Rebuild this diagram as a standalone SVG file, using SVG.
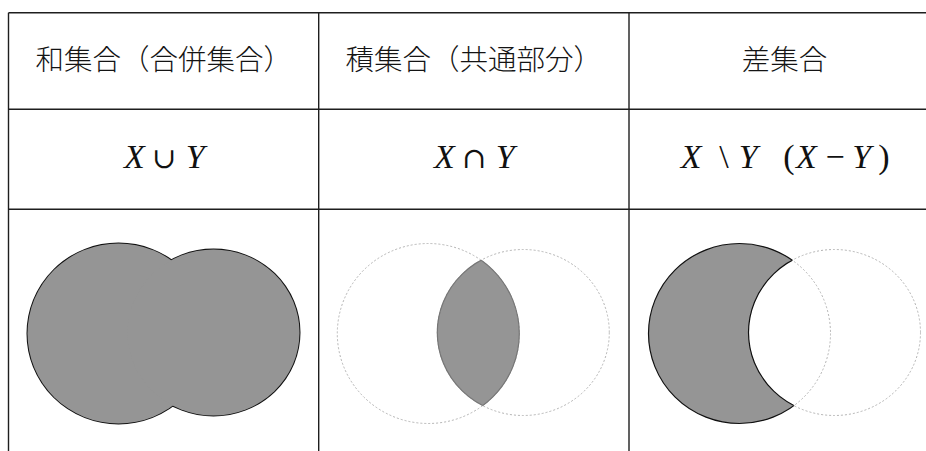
<svg xmlns="http://www.w3.org/2000/svg" xmlns:xlink="http://www.w3.org/1999/xlink" width="926" height="451" viewBox="0 0 926 451">
  <style>
    .grid { stroke: #1e1e1e; stroke-width: 1.4; fill: none; }
    .head { font-family: "Noto Sans CJK JP", "Noto Sans CJK SC", sans-serif; font-size: 28.5px; font-weight: 300; fill: #141414; text-anchor: middle; }
    .mi { font-family: "Liberation Serif", "DejaVu Serif", serif; font-style: italic; font-size: 34px; fill: #111; text-anchor: middle; }
    .mo { font-family: "Liberation Serif", "DejaVu Serif", serif; font-size: 34px; fill: #111; text-anchor: middle; }
    .op { font-family: "DejaVu Serif", "Liberation Serif", serif; font-size: 29px; fill: #111; text-anchor: middle; }
    .solid { fill: #959595; stroke: #111; stroke-width: 2; }
    .solidthin { fill: #959595; stroke: #111; stroke-width: 1.2; }
    .arc { fill: none; stroke: #111; stroke-width: 1.2; }
    .fillonly { fill: #959595; stroke: none; }
    .blank { fill: #ffffff; stroke: none; }
    .dash { fill: none; stroke: #b4b4b4; stroke-width: 1; stroke-dasharray: 2 2; }
    .lensedge { fill: none; stroke: #767676; stroke-width: 1.2; }
  </style>
  <defs>
    <ellipse id="L" cx="0" cy="333.5" rx="91" ry="90"/>
    <ellipse id="R" cx="95" cy="332.5" rx="86" ry="83"/>
    <clipPath id="clipL"><ellipse cx="0" cy="333.5" rx="91" ry="90"/></clipPath>
    <clipPath id="clipR"><ellipse cx="95" cy="332.5" rx="86" ry="83"/></clipPath>
    <clipPath id="clipLbig"><ellipse cx="0" cy="333.5" rx="92.6" ry="91.6"/></clipPath>
  </defs>

  <g id="table-lines">
    <line class="grid" x1="8.5" y1="12.8" x2="926" y2="12.8"/>
    <line class="grid" x1="8.5" y1="109.3" x2="926" y2="109.3"/>
    <line class="grid" x1="8.5" y1="209.3" x2="926" y2="209.3"/>
    <line class="grid" x1="8.5" y1="12.8" x2="8.5" y2="451"/>
    <line class="grid" x1="318.7" y1="12.8" x2="318.7" y2="451"/>
    <line class="grid" x1="629" y1="12.8" x2="629" y2="451"/>
  </g>

  <g id="union">
    <text class="head" x="163.8" y="70">和集合（合併集合）</text>
    <text class="mi" x="134.5" y="168.3">X</text>
    <text class="op" x="164.2" y="168.3">∪</text>
    <text class="mi" x="195.3" y="168.3">Y</text>
    <g transform="translate(118.5,0)">
      <use xlink:href="#L" class="solid"/>
      <use xlink:href="#R" class="solid"/>
      <use xlink:href="#L" class="fillonly"/>
      <use xlink:href="#R" class="fillonly"/>
    </g>
  </g>

  <g id="intersection">
    <text class="head" x="473.8" y="70">積集合（共通部分）</text>
    <text class="mi" x="444.5" y="168.3">X</text>
    <text class="op" x="474.2" y="168.3">∩</text>
    <text class="mi" x="505.3" y="168.3">Y</text>
    <g transform="translate(428.3,0)">
      <use xlink:href="#L" class="dash"/>
      <use xlink:href="#R" class="dash"/>
      <use xlink:href="#R" class="fillonly" clip-path="url(#clipL)"/>
      <use xlink:href="#R" class="lensedge" clip-path="url(#clipL)"/>
      <use xlink:href="#L" class="lensedge" clip-path="url(#clipR)"/>
    </g>
  </g>

  <g id="difference">
    <text class="head" x="784.5" y="70">差集合</text>
    <text class="mi" x="691.2" y="168.3">X</text>
    <text class="mo" x="724" y="168.3">\</text>
    <text class="mi" x="748.3" y="168.3">Y</text>
    <text class="mo" x="789" y="168.3">(</text>
    <text class="mi" x="806.3" y="168.3">X</text>
    <text class="mo" x="835" y="168.3">−</text>
    <text class="mi" x="861.7" y="168.3">Y</text>
    <text class="mo" x="884" y="168.3">)</text>
    <g transform="translate(739.5,0)">
      <use xlink:href="#L" class="solidthin"/>
      <use xlink:href="#R" class="blank" clip-path="url(#clipLbig)"/>
      <use xlink:href="#L" class="dash" clip-path="url(#clipR)"/>
      <use xlink:href="#R" class="dash"/>
      <use xlink:href="#R" class="arc" clip-path="url(#clipL)"/>
    </g>
  </g>
</svg>
